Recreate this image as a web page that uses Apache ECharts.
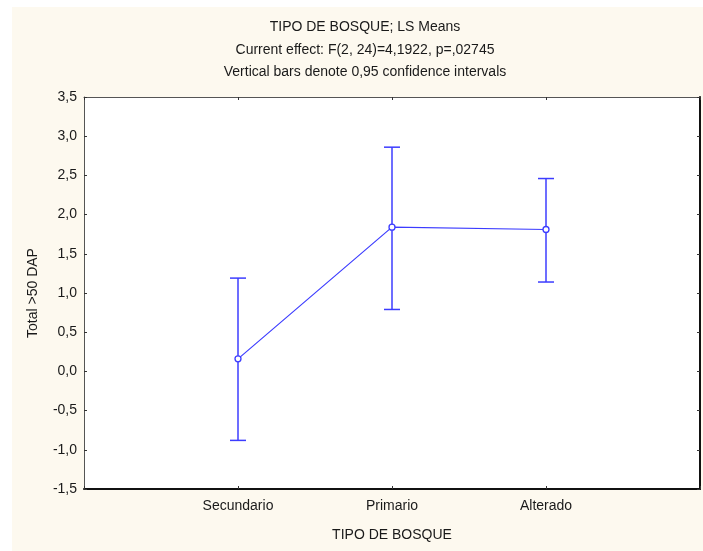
<!DOCTYPE html>
<html><head><meta charset="utf-8">
<script src="https://cdn.jsdelivr.net/npm/echarts@6/dist/echarts.min.js"></script>
<style>html,body{margin:0;padding:0;background:#fff}#c{width:703px;height:551px}</style>
</head><body><div id="c"></div>
<script>
var categories = ['Secundario', 'Primario', 'Alterado'];
var means = [0.16, 1.84, 1.81];
var lower = [-0.88, 0.79, 1.14];
var upper = [1.19, 2.86, 2.46];
var yTicks = [-1.5, -1.0, -0.5, 0.0, 0.5, 1.0, 1.5, 2.0, 2.5, 3.0, 3.5];
var titles = ['TIPO DE BOSQUE; LS Means', 'Current effect: F(2, 24)=4,1922, p=,02745', 'Vertical bars denote 0,95 confidence intervals'];
var xName = 'TIPO DE BOSQUE';
var yName = 'Total >50 DAP';

var FONT = '"Liberation Sans", Arial, sans-serif';
var FS = 14;
var BLUE = '#3c3cff';
var chart = echarts.init(document.getElementById('c'));

var lineData = means.map(function (v, i) { return [i + 1, v]; });
var errData = means.map(function (v, i) { return [i + 1, lower[i], upper[i]]; });

function fmtY(v) { return v.toFixed(1).replace('.', ','); }
function fmtX(v) { return categories[v - 1] || ''; }

var titleY = [27, 50, 72];
var commonX = { type: 'value', min: 0, max: 4, interval: 1 };
var commonY = { type: 'value', min: yTicks[0], max: yTicks[yTicks.length - 1], interval: 0.5 };

chart.setOption({
  backgroundColor: '#ffffff',
  animation: false,
  graphic: [{
    type: 'rect', z: -10, silent: true,
    shape: { x: 12, y: 7, width: 691, height: 544 },
    style: { fill: '#fdf9ef' }
  }].concat(titles.map(function (t, i) {
    return {
      type: 'text', x: 365, y: titleY[i], z: 10,
      style: { text: t, font: FS + 'px ' + FONT, fill: '#1a1a1a', textAlign: 'center', textVerticalAlign: 'middle' }
    };
  })),
  grid: { left: 84, top: 97, right: 3, bottom: 62, show: true, backgroundColor: '#ffffff', borderWidth: 0 },
  xAxis: [
    Object.assign({}, commonX, {
      position: 'bottom',
      name: xName, nameLocation: 'middle', nameGap: 39,
      nameTextStyle: { fontFamily: FONT, fontSize: FS, color: '#1a1a1a' },
      axisLine: { show: true, onZero: false, lineStyle: { color: '#111', width: 2 } },
      axisTick: { show: true, inside: true, length: 3, lineStyle: { color: '#333' } },
      axisLabel: { formatter: fmtX, margin: 10, fontFamily: FONT, fontSize: FS, color: '#1a1a1a' },
      splitLine: { show: false }
    }),
    Object.assign({}, commonX, {
      position: 'top',
      axisLine: { show: true, onZero: false, lineStyle: { color: '#555', width: 1 } },
      axisTick: { show: true, inside: true, length: 3, lineStyle: { color: '#333' } },
      axisLabel: { show: false },
      splitLine: { show: false }
    })
  ],
  yAxis: [
    Object.assign({}, commonY, {
      position: 'left',
      name: yName, nameLocation: 'middle', nameGap: 44,
      nameTextStyle: { fontFamily: FONT, fontSize: FS, color: '#1a1a1a' },
      axisLine: { show: true, onZero: false, lineStyle: { color: '#555', width: 1 } },
      axisTick: { show: true, inside: true, length: 3, lineStyle: { color: '#333' } },
      axisLabel: { formatter: fmtY, margin: 7, fontFamily: FONT, fontSize: FS, color: '#1a1a1a' },
      splitLine: { show: false }
    }),
    Object.assign({}, commonY, {
      position: 'right',
      axisLine: { show: true, onZero: false, lineStyle: { color: '#111', width: 2 } },
      axisTick: { show: true, inside: true, length: 3, lineStyle: { color: '#333' } },
      axisLabel: { show: false },
      splitLine: { show: false }
    })
  ],
  series: [
    {
      type: 'custom',
      xAxisIndex: 0, yAxisIndex: 0,
      data: errData,
      z: 3,
      renderItem: function (params, api) {
        var x = api.value(0);
        var lo = api.coord([x, api.value(1)]);
        var hi = api.coord([x, api.value(2)]);
        var hw = 8;
        var st = { stroke: BLUE, lineWidth: 1.5 };
        return {
          type: 'group',
          children: [
            { type: 'line', shape: { x1: lo[0], y1: lo[1], x2: hi[0], y2: hi[1] }, style: st },
            { type: 'line', shape: { x1: lo[0] - hw, y1: lo[1], x2: lo[0] + hw, y2: lo[1] }, style: st },
            { type: 'line', shape: { x1: hi[0] - hw, y1: hi[1], x2: hi[0] + hw, y2: hi[1] }, style: st }
          ]
        };
      }
    },
    {
      type: 'line',
      xAxisIndex: 0, yAxisIndex: 0,
      data: lineData,
      z: 4,
      symbol: 'circle', symbolSize: 6,
      lineStyle: { color: BLUE, width: 1.2 },
      itemStyle: { color: '#ffffff', borderColor: BLUE, borderWidth: 1.3 }
    }
  ]
});
</script>
</body></html>
